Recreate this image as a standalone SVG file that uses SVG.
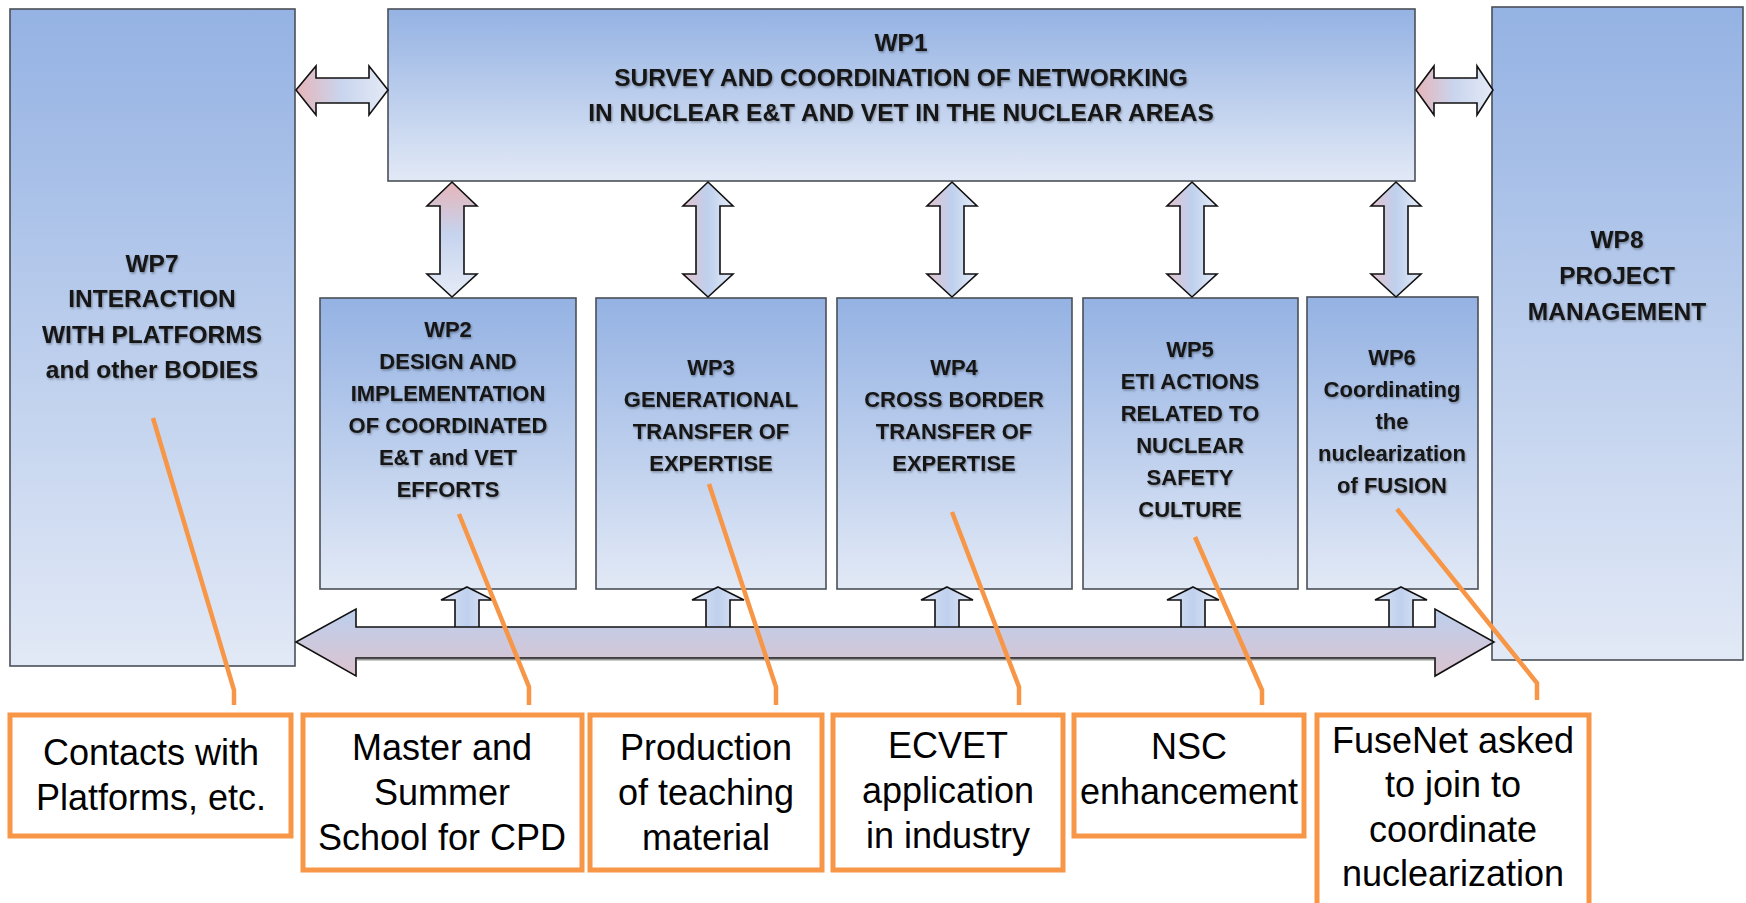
<svg xmlns="http://www.w3.org/2000/svg" width="1746" height="903" viewBox="0 0 1746 903">
<defs>
<linearGradient id="gBox" x1="0" y1="0" x2="0" y2="1">
<stop offset="0" stop-color="#94B2E3"/>
<stop offset="1" stop-color="#E2E9F6"/>
</linearGradient>
<linearGradient id="gH" x1="0" y1="0" x2="1" y2="0">
<stop offset="0" stop-color="#E6B5B9"/>
<stop offset="0.5" stop-color="#C9D5EE"/>
<stop offset="1" stop-color="#E4EAF6"/>
</linearGradient>
<linearGradient id="gV2" x1="0" y1="0" x2="0" y2="1">
<stop offset="0" stop-color="#E6B5B9"/>
<stop offset="0.45" stop-color="#C6D3EE"/>
<stop offset="1" stop-color="#E6ECF7"/>
</linearGradient>
<linearGradient id="gVs" x1="0" y1="0" x2="1" y2="0">
<stop offset="0" stop-color="#E4C2CC"/>
<stop offset="0.5" stop-color="#BED0EE"/>
<stop offset="1" stop-color="#E6ECF7"/>
</linearGradient>
<linearGradient id="gSmall" x1="0" y1="0" x2="1" y2="0">
<stop offset="0" stop-color="#DCE3F3"/>
<stop offset="0.5" stop-color="#BFD0EE"/>
<stop offset="1" stop-color="#E4E9F5"/>
</linearGradient>
<linearGradient id="gBig" x1="0" y1="0" x2="0" y2="1">
<stop offset="0" stop-color="#BCCFEE"/>
<stop offset="1" stop-color="#DCC3CE"/>
</linearGradient>
<filter id="ts" x="-10%" y="-20%" width="120%" height="150%">
<feDropShadow dx="1" dy="1.5" stdDeviation="1" flood-color="#000" flood-opacity="0.35"/>
</filter>
</defs>
<style>
.box{fill:url(#gBox);stroke:#4a4f58;stroke-width:1.6}
.bt{font-family:"Liberation Sans",Arial,sans-serif;font-weight:bold;font-size:22px;fill:#141414;text-anchor:middle;filter:url(#ts)}
.bt1{font-size:24.5px}
.arr{stroke:#111;stroke-width:1.6;stroke-linejoin:miter}
.ob{fill:#fff;stroke:#F79646;stroke-width:5}
.ot{font-family:"Liberation Sans",Arial,sans-serif;font-size:36px;fill:#000;text-anchor:middle}
.ld{fill:none;stroke:#F79646;stroke-width:4.5}
</style>
<rect width="1746" height="903" fill="#fff"/>

<g id="WP7">
<rect class="box" x="10" y="9" width="285" height="657"/>
<text class="bt bt1"><tspan x="152" y="272">WP7</tspan><tspan x="152" y="307">INTERACTION</tspan><tspan x="152" y="343">WITH PLATFORMS</tspan><tspan x="152" y="378">and other BODIES</tspan></text>
</g>
<g id="WP8">
<rect class="box" x="1492" y="7" width="251" height="653"/>
<text class="bt bt1"><tspan x="1617" y="248">WP8</tspan><tspan x="1617" y="284">PROJECT</tspan><tspan x="1617" y="320">MANAGEMENT</tspan></text>
</g>
<g id="WP1">
<rect class="box" x="388" y="9" width="1027" height="172"/>
<text class="bt bt1"><tspan x="901" y="51">WP1</tspan><tspan x="901" y="86">SURVEY AND COORDINATION OF NETWORKING</tspan><tspan x="901" y="121">IN NUCLEAR E&amp;T AND VET IN THE NUCLEAR AREAS</tspan></text>
</g>
<g id="WP2">
<rect class="box" x="320" y="298" width="256" height="291"/>
<text class="bt"><tspan x="448" y="337">WP2</tspan><tspan x="448" y="369">DESIGN AND</tspan><tspan x="448" y="401">IMPLEMENTATION</tspan><tspan x="448" y="433">OF COORDINATED</tspan><tspan x="448" y="465">E&amp;T and VET</tspan><tspan x="448" y="497">EFFORTS</tspan></text>
</g>
<g id="WP3">
<rect class="box" x="596" y="298" width="230" height="291"/>
<text class="bt"><tspan x="711" y="375">WP3</tspan><tspan x="711" y="407">GENERATIONAL</tspan><tspan x="711" y="439">TRANSFER OF</tspan><tspan x="711" y="471">EXPERTISE</tspan></text>
</g>
<g id="WP4">
<rect class="box" x="837" y="298" width="235" height="291"/>
<text class="bt"><tspan x="954" y="375">WP4</tspan><tspan x="954" y="407">CROSS BORDER</tspan><tspan x="954" y="439">TRANSFER OF</tspan><tspan x="954" y="471">EXPERTISE</tspan></text>
</g>
<g id="WP5">
<rect class="box" x="1083" y="298" width="215" height="291"/>
<text class="bt"><tspan x="1190" y="357">WP5</tspan><tspan x="1190" y="389">ETI ACTIONS</tspan><tspan x="1190" y="421">RELATED TO</tspan><tspan x="1190" y="453">NUCLEAR</tspan><tspan x="1190" y="485">SAFETY</tspan><tspan x="1190" y="517">CULTURE</tspan></text>
</g>
<g id="WP6">
<rect class="box" x="1307" y="297" width="171" height="292"/>
<text class="bt"><tspan x="1392" y="365">WP6</tspan><tspan x="1392" y="397">Coordinating</tspan><tspan x="1392" y="429">the</tspan><tspan x="1392" y="461">nuclearization</tspan><tspan x="1392" y="493">of FUSION</tspan></text>
</g>

<g id="connectors">
<path class="arr" fill="url(#gH)" d="M296,90 L316,66 L316,78 L369,78 L369,66 L388,90 L369,115 L369,103 L316,103 L316,115 Z"/>
<path class="arr" fill="url(#gH)" d="M1416,90 L1434,66 L1434,78 L1477,78 L1477,66 L1493,90 L1477,115 L1477,103 L1434,103 L1434,115 Z"/>
<path class="arr" fill="url(#gV2)" d="M452,182 L477,206 L464,206 L464,274 L477,274 L452,297 L427,274 L440,274 L440,206 L427,206 Z"/>
<path class="arr" fill="url(#gVs)" d="M708,182 L733,206 L720,206 L720,274 L733,274 L708,297 L683,274 L696,274 L696,206 L683,206 Z"/>
<path class="arr" fill="url(#gVs)" d="M952,182 L977,206 L964,206 L964,274 L977,274 L952,297 L927,274 L940,274 L940,206 L927,206 Z"/>
<path class="arr" fill="url(#gVs)" d="M1192,182 L1217,206 L1204,206 L1204,274 L1217,274 L1192,297 L1167,274 L1180,274 L1180,206 L1167,206 Z"/>
<path class="arr" fill="url(#gVs)" d="M1396,182 L1421,206 L1408,206 L1408,274 L1421,274 L1396,297 L1371,274 L1384,274 L1384,206 L1371,206 Z"/>
<path class="arr" fill="url(#gSmall)" d="M467,587 L493,600 L479,600 L479,628 L455,628 L455,600 L441,600 Z"/>
<path class="arr" fill="url(#gSmall)" d="M718,587 L744,600 L730,600 L730,628 L706,628 L706,600 L692,600 Z"/>
<path class="arr" fill="url(#gSmall)" d="M947,587 L973,600 L959,600 L959,628 L935,628 L935,600 L921,600 Z"/>
<path class="arr" fill="url(#gSmall)" d="M1193,587 L1219,600 L1205,600 L1205,628 L1181,628 L1181,600 L1167,600 Z"/>
<path class="arr" fill="url(#gSmall)" d="M1401,587 L1427,600 L1413,600 L1413,628 L1389,628 L1389,600 L1375,600 Z"/>
<path class="arr" fill="url(#gBig)" stroke-width="2" d="M296,642 L356,609 L356,627 L1435,627 L1435,609 L1494,642 L1435,676 L1435,658 L356,658 L356,676 Z"/>
<line x1="356" y1="659.5" x2="1435" y2="659.5" stroke="#555" stroke-width="2" opacity="0.6"/>
<polyline class="ld" points="153,418 234,690 234,705"/>
<polyline class="ld" points="459,514 529,687 529,705"/>
<polyline class="ld" points="709,484 776,687 776,705"/>
<polyline class="ld" points="952,512 1019,687 1019,705"/>
<polyline class="ld" points="1195,537 1262,690 1262,705"/>
<polyline class="ld" points="1397,509 1537,683 1537,700"/>
</g>

<g id="note1">
<rect class="ob" x="10" y="715" width="281" height="121"/>
<text class="ot"><tspan x="151" y="765">Contacts with</tspan><tspan x="151" y="810">Platforms, etc.</tspan></text>
</g>
<g id="note2">
<rect class="ob" x="303" y="715" width="279" height="155"/>
<text class="ot"><tspan x="442" y="760">Master and</tspan><tspan x="442" y="805">Summer</tspan><tspan x="442" y="850">School for CPD</tspan></text>
</g>
<g id="note3">
<rect class="ob" x="590" y="715" width="232" height="155"/>
<text class="ot"><tspan x="706" y="760">Production</tspan><tspan x="706" y="805">of teaching</tspan><tspan x="706" y="850">material</tspan></text>
</g>
<g id="note4">
<rect class="ob" x="833" y="715" width="230" height="155"/>
<text class="ot"><tspan x="948" y="758">ECVET</tspan><tspan x="948" y="803">application</tspan><tspan x="948" y="848">in industry</tspan></text>
</g>
<g id="note5">
<rect class="ob" x="1074" y="715" width="230" height="121"/>
<text class="ot"><tspan x="1189" y="759">NSC</tspan><tspan x="1189" y="804">enhancement</tspan></text>
</g>
<g id="note6">
<rect class="ob" x="1317" y="715" width="272" height="200"/>
<text class="ot"><tspan x="1453" y="753">FuseNet asked</tspan><tspan x="1453" y="797">to join to</tspan><tspan x="1453" y="842">coordinate</tspan><tspan x="1453" y="886">nuclearization</tspan></text>
</g>
</svg>
